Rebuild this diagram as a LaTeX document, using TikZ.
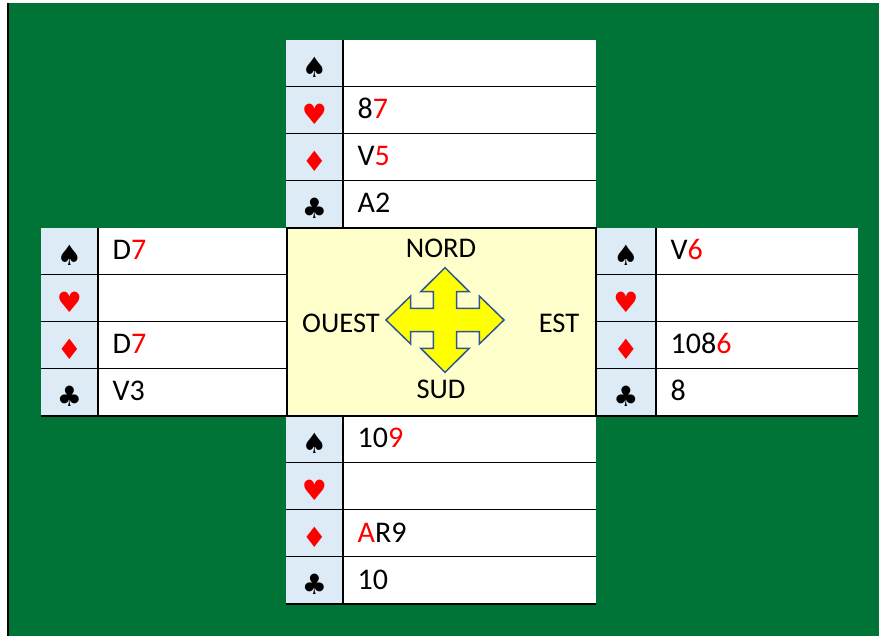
\documentclass[tikz,border=0pt]{standalone}
\usepackage{fontspec}
\setmainfont{Carlito}
\newfontfamily\suitfont{DejaVu Sans}

\definecolor{felt}{RGB}{0,115,55}
\definecolor{suitfill}{RGB}{221,235,247}
\definecolor{boxfill}{RGB}{255,255,204}
\definecolor{cardred}{RGB}{255,0,0}
\definecolor{arrowline}{RGB}{47,85,151}
\definecolor{arrowfill}{RGB}{255,255,0}

\newcommand{\rd}[1]{\textcolor{cardred}{#1}}
\newcommand{\pique}{♠}
\newcommand{\coeur}{\textcolor{cardred}{♥}}
\newcommand{\carreau}{\textcolor{cardred}{♦}}
\newcommand{\trefle}{♣}

% one row of a hand: name, x left, x split, x right, y top, suit, cards
\newcommand{\handrow}[7]{%
  \fill[suitfill] (#2,#5) rectangle (#3,#5+47);
  \fill[white] (#3,#5) rectangle (#4,#5+47);
  \node[suit] (#1-suit) at ({(#2+#3)/2},#5+27) {#6};
  \node[cards] (#1-cards) at (#3+14.5,#5+32) {#7};
  \draw[gridline] (#2,#5+47) -- (#4,#5+47);
}
% a whole hand: name, x left, x split, x right, y top, four suits
\newcommand{\hand}[9]{%
  \handrow{#1-pique}{#2}{#3}{#4}{#5}{\pique}{#6}
  \handrow{#1-coeur}{#2}{#3}{#4}{#5+47}{\coeur}{#7}
  \handrow{#1-carreau}{#2}{#3}{#4}{#5+94}{\carreau}{#8}
  \handrow{#1-trefle}{#2}{#3}{#4}{#5+141}{\trefle}{#9}
  \draw[gridline] (#3,#5) -- (#3,#5+188);
}

\begin{document}
\begin{tikzpicture}[
      x=1pt, y=-1pt,
      gridline/.style={draw=black, line width=1.6pt},
      suit/.style={inner sep=0, font=\suitfont\fontsize{28}{28}\selectfont},
      cards/.style={anchor=base west, inner sep=0, font=\fontsize{30}{34}\selectfont},
      wind/.style={inner sep=0, font=\fontsize{28.5}{34}\selectfont},
      table/.style={draw=black, line width=1.6pt, fill=boxfill, inner sep=0,
        minimum width=309pt, minimum height=188pt}
    ]
    \useasboundingbox (0,0) rectangle (879,636);
    \fill[white] (0,0) rectangle (879,636);
    \fill[felt] (8,3) rectangle (879,636);
    \draw[black, line width=2pt] (8,3) -- (8,636);

    \hand{nord}{286}{343}{596}{40}{}{8\rd{7}}{V\rd{5}}{A2}
    \hand{ouest}{41}{98}{287}{228}{D\rd{7}}{}{D\rd{7}}{V3}
    \hand{est}{596}{656}{858}{228}{V\rd{6}}{}{108\rd{6}}{8}
    \hand{sud}{286}{343}{596}{416}{10\rd{9}}{}{\rd{A}R9}{10}

    \node[table] (tapis) at (441.5,322) {};
    \node[wind] (n) at (441,248) {NORD};
    \node[wind] (s) at (441,389) {SUD};
    \node[wind] (o) at (341,323) {OUEST};
    \node[wind] (e) at (559,323) {EST};

    \begin{scope}[shift={(445,320)}]
      \draw[draw=arrowline, fill=arrowfill, line width=1.5pt, line join=miter]
        (0,-52.3) -- (24.3,-28.3) -- (11.7,-28.3) -- (11.7,-11.7) -- (34.3,-11.7)
        -- (34.3,-24) -- (59,0) -- (34.3,24) -- (34.3,11.7) -- (11.7,11.7)
        -- (11.7,28.3) -- (24.3,28.3) -- (0,52.3) -- (-24.3,28.3) -- (-11.7,28.3)
        -- (-11.7,11.7) -- (-34.3,11.7) -- (-34.3,24) -- (-59,0) -- (-34.3,-24)
        -- (-34.3,-11.7) -- (-11.7,-11.7) -- (-11.7,-28.3) -- (-24.3,-28.3) -- cycle;
    \end{scope}
  \end{tikzpicture}
\end{document}
